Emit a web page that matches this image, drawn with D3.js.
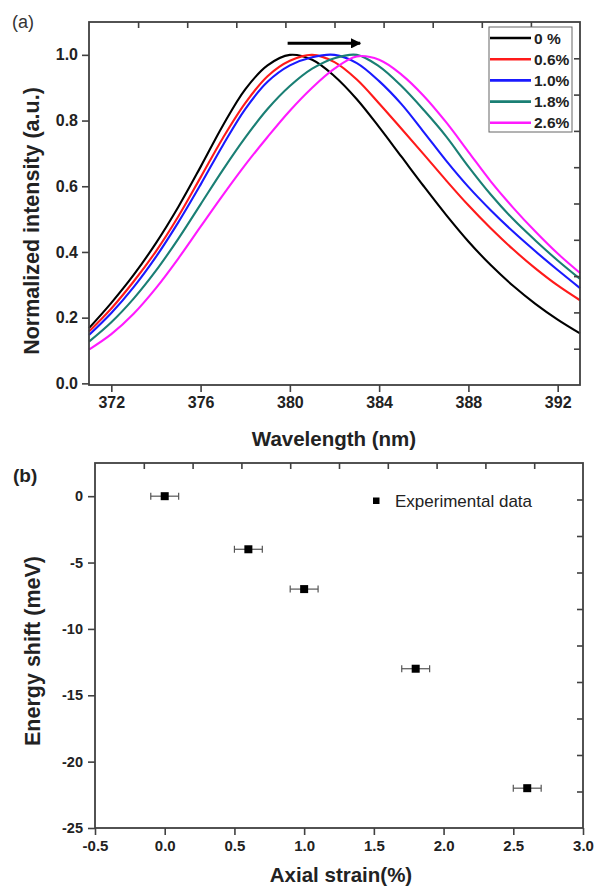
<!DOCTYPE html>
<html><head><meta charset="utf-8">
<script src="https://cdn.jsdelivr.net/npm/d3@7/dist/d3.min.js"></script>
<style>
html,body{margin:0;padding:0;background:#fff;}
svg{display:block;font-family:"Liberation Sans",Arial,sans-serif;}
</style></head>
<body><svg id="c" width="595" height="886"></svg>
<script>
// ---------- Panel (a) data ----------
const wavelengths = d3.range(371, 394, 1); // 371..393 nm
const strainLabels = ["0 %", "0.6%", "1.0%", "1.8%", "2.6%"];
const strainColors = ["#000000", "#ff1a1a", "#1a1aff", "#1a7f74", "#ff1aff"];
const int0  = [0.168,0.245,0.330,0.427,0.537,0.659,0.785,0.895,0.968,1.000,0.985,0.935,0.865,0.780,0.690,0.600,0.513,0.432,0.360,0.297,0.242,0.194,0.152];
const int06 = [0.158,0.228,0.310,0.402,0.508,0.627,0.747,0.853,0.935,0.982,1.000,0.978,0.925,0.852,0.775,0.697,0.618,0.542,0.472,0.408,0.350,0.298,0.253];
const int10 = [0.147,0.214,0.293,0.385,0.490,0.605,0.725,0.835,0.918,0.968,0.993,1.000,0.975,0.920,0.850,0.765,0.678,0.598,0.527,0.462,0.402,0.345,0.290];
const int18 = [0.127,0.186,0.258,0.343,0.440,0.545,0.650,0.748,0.835,0.905,0.958,0.990,1.000,0.965,0.905,0.832,0.752,0.660,0.575,0.500,0.435,0.374,0.318];
const int26 = [0.103,0.150,0.212,0.290,0.380,0.477,0.573,0.665,0.750,0.830,0.900,0.958,0.995,0.985,0.940,0.875,0.795,0.705,0.615,0.535,0.462,0.395,0.336];
const intensitySeries = [int0, int06, int10, int18, int26];
const xTicksA = [372, 376, 380, 384, 388, 392];
const yTicksA = [0.0, 0.2, 0.4, 0.6, 0.8, 1.0];

// ---------- Panel (b) data ----------
const strain = [0.0, 0.6, 1.0, 1.8, 2.6];
const energyShift = [0, -4, -7, -13, -22];
const strainErr = [0.1, 0.1, 0.1, 0.1, 0.1];
const xTicksB = [-0.5, 0.0, 0.5, 1.0, 1.5, 2.0, 2.5, 3.0];
const yTicksB = [0, -5, -10, -15, -20, -25];

const svg = d3.select("#c");
const AX = "#404040";
const hy = f => (v => f(v).replace("\u2212", "-"));

function frame(g, x, y, xMajor, xMinor, yMajor, yMinor, xFmt, yFmt, xFont, yFont, yPad) {
  const [x0, x1] = x.range(), [y0, y1] = y.range(); // y0 bottom, y1 top
  const bx = g.append("g").attr("transform", `translate(0,${y0})`);
  bx.call(d3.axisBottom(x).tickValues(xMinor).tickSize(4).tickFormat(""));
  bx.call(d3.axisBottom(x).tickValues(xMajor).tickSize(7).tickPadding(5).tickFormat(xFmt));
  bx.selectAll("path.domain").remove();
  bx.selectAll("line").attr("stroke", AX).attr("stroke-width", 1.6);
  bx.selectAll("text").attr("font-size", xFont).attr("font-weight", "bold").attr("fill", "#222");
  const ly = g.append("g").attr("transform", `translate(${x0},0)`);
  ly.call(d3.axisLeft(y).tickValues(yMinor).tickSize(4).tickFormat(""));
  ly.call(d3.axisLeft(y).tickValues(yMajor).tickSize(7).tickPadding(yPad).tickFormat(yFmt));
  ly.selectAll("path.domain").remove();
  ly.selectAll("line").attr("stroke", AX).attr("stroke-width", 1.6);
  ly.selectAll("text").attr("font-size", yFont).attr("font-weight", "bold").attr("fill", "#222");
  // mirrored axes (Origin style, 10 equal divisions, inward)
  const tx = d3.scaleLinear().domain([0, 10]).range([x0, x1]);
  const ty = d3.scaleLinear().domain([0, 10]).range([y0, y1]);
  const top = g.append("g").attr("transform", `translate(0,${y1})`)
    .call(d3.axisBottom(tx).tickValues(d3.range(1, 10)).tickSize(6).tickFormat(""));
  top.selectAll("path.domain").remove();
  top.selectAll("line").attr("stroke", AX).attr("stroke-width", 1.6);
  const right = g.append("g").attr("transform", `translate(${x1},0)`)
    .call(d3.axisLeft(ty).tickValues(d3.range(1, 10)).tickSize(6).tickFormat(""));
  right.selectAll("path.domain").remove();
  right.selectAll("line").attr("stroke", AX).attr("stroke-width", 1.6);
  g.append("rect").attr("x", x0).attr("y", y1).attr("width", x1 - x0).attr("height", y0 - y1)
    .attr("fill", "none").attr("stroke", AX).attr("stroke-width", 1.8);
}

// ================= Panel (a) =================
const xa = d3.scaleLinear().domain([371, 393]).range([89, 580]);
const ya = d3.scaleLinear().domain([-0.005, 1.1]).range([385, 22]);
const ga = svg.append("g");

const line = d3.line().x((d, i) => xa(wavelengths[i])).y(d => ya(d)).curve(d3.curveCatmullRom.alpha(0.5));
intensitySeries.forEach((s, k) => {
  ga.append("path").datum(s).attr("d", line).attr("fill", "none")
    .attr("stroke", strainColors[k]).attr("stroke-width", 2.1).attr("stroke-linejoin", "round");
});
frame(ga, xa, ya, xTicksA, d3.range(372, 394, 2), yTicksA, d3.range(0.1, 1.1, 0.2),
  d3.format("d"), d3.format(".1f"), "16px", "16px", 4);

// arrow
const defs = svg.append("defs");
defs.append("marker").attr("id", "ah").attr("viewBox", "0 0 10 10").attr("refX", 9).attr("refY", 5)
  .attr("markerWidth", 4).attr("markerHeight", 3.4).attr("orient", "auto").attr("markerUnits", "strokeWidth")
  .append("path").attr("d", "M0,0L10,5L0,10Z").attr("fill", "#000");
ga.append("line").attr("x1", xa(379.9)).attr("x2", xa(383.15)).attr("y1", ya(1.035)).attr("y2", ya(1.035))
  .attr("stroke", "#000").attr("stroke-width", 3).attr("marker-end", "url(#ah)");

// legend (a)
const lga = ga.append("g");
lga.append("rect").attr("x", 489).attr("y", 27).attr("width", 83).attr("height", 105)
  .attr("fill", "#fff").attr("stroke", "#666").attr("stroke-width", 1);
strainLabels.forEach((lab, k) => {
  const yy = 38 + k * 21.2;
  lga.append("line").attr("x1", 490).attr("x2", 531).attr("y1", yy).attr("y2", yy)
    .attr("stroke", strainColors[k]).attr("stroke-width", 2.6);
  lga.append("text").attr("x", 534).attr("y", yy + 5.5).text(lab)
    .attr("font-size", "15.5px").attr("font-weight", "bold").attr("fill", "#222");
});

ga.append("text").attr("x", 12).attr("y", 28).text("(a)").attr("font-size", "18px").attr("fill", "#333");
ga.append("text").attr("x", 334).attr("y", 446).attr("text-anchor", "middle").text("Wavelength (nm)")
  .attr("font-size", "20.5px").attr("font-weight", "bold").attr("fill", "#222");
ga.append("text").attr("transform", "translate(39,221) rotate(-90)").attr("text-anchor", "middle")
  .text("Normalized intensity (a.u.)").attr("font-size", "21.5px").attr("font-weight", "bold").attr("fill", "#222");

// ================= Panel (b) =================
const xb = d3.scaleLinear().domain([-0.5, 3.0]).range([95, 583]);
const yb = d3.scaleLinear().domain([-25, 2.5]).range([828, 463]);
const gb = svg.append("g");
frame(gb, xb, yb, xTicksB, d3.range(-0.25, 3.0, 0.5), yTicksB, d3.range(-22.5, 2.6, 5),
  hy(d3.format(".1f")), hy(d3.format("d")), "15px", "14.5px", 5);

const pts = gb.append("g");
strain.forEach((sx, i) => {
  const cx = xb(sx), cy = yb(energyShift[i]);
  const xl = xb(sx - strainErr[i]), xr = xb(sx + strainErr[i]);
  pts.append("line").attr("x1", xl).attr("x2", xr).attr("y1", cy).attr("y2", cy)
    .attr("stroke", "#555").attr("stroke-width", 1.2);
  [xl, xr].forEach(ex => pts.append("line").attr("x1", ex).attr("x2", ex).attr("y1", cy - 3.5).attr("y2", cy + 3.5)
    .attr("stroke", "#555").attr("stroke-width", 1.2));
  pts.append("rect").attr("x", cx - 4).attr("y", cy - 4).attr("width", 8).attr("height", 8).attr("fill", "#000");
});

gb.append("rect").attr("x", 373).attr("y", 497.5).attr("width", 6.5).attr("height", 6.5).attr("fill", "#000");
gb.append("text").attr("x", 395).attr("y", 507).text("Experimental data")
  .attr("font-size", "17px").attr("fill", "#222");

gb.append("text").attr("x", 13).attr("y", 482).text("(b)").attr("font-size", "19px").attr("font-weight", "bold").attr("fill", "#222");
gb.append("text").attr("x", 341).attr("y", 882).attr("text-anchor", "middle").text("Axial strain(%)")
  .attr("font-size", "20.5px").attr("font-weight", "bold").attr("fill", "#222");
gb.append("text").attr("transform", "translate(40,651) rotate(-90)").attr("text-anchor", "middle")
  .text("Energy shift (meV)").attr("font-size", "21.5px").attr("font-weight", "bold").attr("fill", "#222");
</script></body></html>
